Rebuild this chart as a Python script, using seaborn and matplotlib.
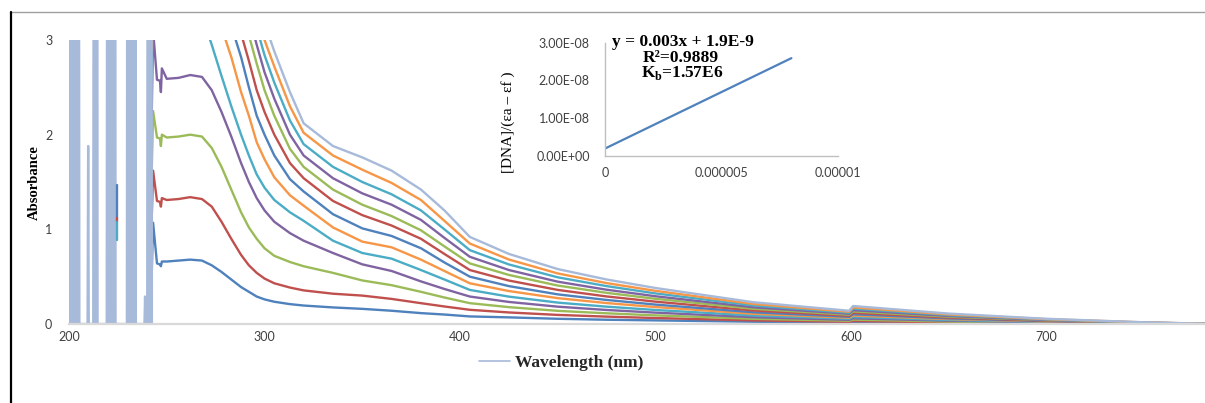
import matplotlib
matplotlib.use("Agg")
import matplotlib.pyplot as plt
from matplotlib.lines import Line2D
import seaborn as sns

# ---------------- data ----------------
wavelength = [242.3, 243, 245, 246.5, 247, 247.5, 250, 256, 262, 268, 273, 278, 283, 288,
              292, 296, 300, 305, 313, 320, 335, 350, 365, 380, 392, 405, 425, 450, 475,
              500, 550, 599, 601, 650, 700, 750, 781]

s1 = [0.52, 1.07, 0.64, 0.63, 0.61, 0.66, 0.66, 0.67, 0.68, 0.67, 0.62, 0.55, 0.47, 0.39,
      0.34, 0.29, 0.26, 0.235, 0.21, 0.195, 0.175, 0.16, 0.14, 0.115, 0.10, 0.08, 0.07, 0.055,
      0.045, 0.038, 0.024, 0.014, 0.018, 0.011, 0.005, 0.002, 0.0]
s2 = [1.10, 1.62, 1.30, 1.29, 1.24, 1.33, 1.31, 1.32, 1.34, 1.32, 1.24, 1.08, 0.90, 0.73,
      0.62, 0.54, 0.48, 0.43, 0.385, 0.355, 0.32, 0.30, 0.265, 0.22, 0.185, 0.15, 0.122, 0.096,
      0.078, 0.063, 0.038, 0.023, 0.031, 0.018, 0.009, 0.003, 0.0]
s3 = [1.60, 2.25, 1.97, 1.96, 1.88, 2.00, 1.97, 1.98, 2.00, 1.98, 1.86, 1.66, 1.42, 1.18,
      1.02, 0.90, 0.80, 0.72, 0.655, 0.61, 0.54, 0.46, 0.41, 0.34, 0.28, 0.22, 0.178, 0.139,
      0.113, 0.091, 0.055, 0.034, 0.046, 0.026, 0.013, 0.004, 0.001]
s4 = [2.20, 3.10, 2.58, 2.57, 2.45, 2.70, 2.59, 2.60, 2.63, 2.61, 2.47, 2.24, 1.98, 1.70,
      1.50, 1.33, 1.20, 1.08, 0.96, 0.88, 0.75, 0.63, 0.56, 0.45, 0.37, 0.29, 0.233, 0.183,
      0.148, 0.12, 0.072, 0.044, 0.06, 0.035, 0.017, 0.006, 0.001]
s5 = [2.60, 3.50, 3.30, 3.30, 3.30, 3.30, 3.30, 3.35, 3.35, 3.25, 2.95, 2.62, 2.30, 2.00,
      1.78, 1.58, 1.44, 1.31, 1.18, 1.09, 0.88, 0.75, 0.69, 0.57, 0.47, 0.36, 0.289, 0.226,
      0.183, 0.148, 0.09, 0.055, 0.074, 0.043, 0.021, 0.007, 0.001]
s6 = [2.90, 3.60, 3.60, 3.60, 3.60, 3.60, 3.60, 3.60, 3.60, 3.60, 3.40, 3.13, 2.82, 2.45,
      2.20, 1.92, 1.74, 1.55, 1.36, 1.25, 1.02, 0.87, 0.81, 0.68, 0.56, 0.43, 0.348, 0.273,
      0.221, 0.179, 0.108, 0.066, 0.089, 0.052, 0.026, 0.008, 0.001]
s7 = [3.10, 3.70, 3.70, 3.70, 3.70, 3.70, 3.70, 3.70, 3.70, 3.70, 3.70, 3.45, 3.15, 2.82,
      2.50, 2.20, 2.00, 1.78, 1.53, 1.40, 1.16, 1.01, 0.93, 0.80, 0.65, 0.50, 0.40, 0.313,
      0.254, 0.205, 0.124, 0.076, 0.103, 0.059, 0.030, 0.010, 0.002]
s8 = [3.20, 3.80, 3.80, 3.80, 3.80, 3.80, 3.80, 3.80, 3.80, 3.80, 3.80, 3.80, 3.40, 3.07,
      2.78, 2.47, 2.24, 2.00, 1.70, 1.54, 1.30, 1.15, 1.04, 0.90, 0.74, 0.57, 0.459, 0.36,
      0.291, 0.236, 0.143, 0.087, 0.118, 0.068, 0.034, 0.011, 0.002]
s9 = [3.30, 3.90, 3.90, 3.90, 3.90, 3.90, 3.90, 3.90, 3.90, 3.90, 3.90, 3.90, 3.90, 3.30,
      3.05, 2.75, 2.47, 2.20, 1.85, 1.66, 1.42, 1.26, 1.14, 0.99, 0.82, 0.64, 0.518, 0.406,
      0.329, 0.266, 0.161, 0.098, 0.133, 0.077, 0.039, 0.013, 0.002]
s10 = [3.40, 4.00, 4.00, 4.00, 4.00, 4.00, 4.00, 4.00, 4.00, 4.00, 4.00, 4.00, 4.00, 4.00,
       3.25, 2.95, 2.66, 2.38, 2.00, 1.78, 1.54, 1.38, 1.26, 1.10, 0.91, 0.71, 0.57, 0.447,
       0.362, 0.293, 0.177, 0.108, 0.146, 0.085, 0.042, 0.014, 0.002]
s11 = [3.50, 4.10, 4.10, 4.10, 4.10, 4.10, 4.10, 4.10, 4.10, 4.10, 4.10, 4.10, 4.10, 4.10,
       3.45, 3.13, 2.84, 2.55, 2.15, 1.90, 1.66, 1.50, 1.37, 1.20, 1.00, 0.78, 0.629, 0.493,
       0.40, 0.323, 0.196, 0.119, 0.162, 0.094, 0.047, 0.015, 0.003]
s12 = [3.60, 4.20, 4.20, 4.20, 4.20, 4.20, 4.20, 4.20, 4.20, 4.20, 4.20, 4.20, 4.20, 4.20,
       4.20, 3.30, 3.00, 2.72, 2.30, 2.02, 1.78, 1.63, 1.49, 1.31, 1.09, 0.85, 0.681, 0.534,
       0.432, 0.35, 0.212, 0.129, 0.175, 0.101, 0.051, 0.017, 0.003]
s13 = [3.70, 4.30, 4.30, 4.30, 4.30, 4.30, 4.30, 4.30, 4.30, 4.30, 4.30, 4.30, 4.30, 4.30,
       4.30, 3.50, 3.18, 2.88, 2.45, 2.12, 1.88, 1.76, 1.62, 1.42, 1.20, 0.92, 0.74, 0.58,
       0.47, 0.38, 0.23, 0.14, 0.19, 0.11, 0.055, 0.018, 0.003]
series = [s1, s2, s3, s4, s5, s6, s7, s8, s9, s10, s11, s12, s13]

# noisy low-wavelength part of the light-blue series (off-scale spikes)
spike_wl = [200.0, 200.4, 200.8, 201.2, 201.5,
            202.1, 202.5, 202.9, 203.3, 203.7, 204.1, 204.5, 204.9, 205.3, 205.6,
            209.5, 209.8, 210.1,
            212.4, 212.8, 213.2, 213.6, 214.0, 214.4, 214.6,
            219.3, 219.7, 220.1, 220.5, 220.9, 221.3, 221.7, 222.1, 222.5, 222.9, 223.3, 223.6, 223.8,
            229.6, 230.0, 230.4, 230.8, 231.2, 231.6, 232.0, 232.4, 232.8, 233.2, 233.6, 234.0, 234.2,
            238.6, 238.9, 239.2,
            240.0, 240.4, 240.8, 241.2, 241.6, 242.0, 242.4]
spike_abs = [0, 9, 0, 9, 0,
             0, 9, 0, 9, 0, 9, 0, 9, 0, 0,
             0, 1.88, 0,
             0, 9, 0, 9, 0, 9, 0,
             0, 9, 0, 9, 0, 9, 0, 9, 0, 9, 0, 9, 0,
             0, 9, 0, 9, 0, 9, 0, 9, 0, 9, 0, 9, 0,
             0, 0.29, 0,
             0, 9, 0, 9, 0, 9, 0]

# short coloured artefact near 224 nm
artefact_wl = [224.3, 224.3]
artefact_s1 = [1.47, 1.12]
artefact_s2 = [1.12, 1.08]
artefact_s5 = [1.08, 0.89]

# inset: [DNA]/(ea-ef) vs [DNA]
inset_x = [0.0, 2.0e-6, 4.0e-6, 6.0e-6, 8.0e-6]
inset_y = [1.9e-9, 7.9e-9, 1.39e-8, 1.99e-8, 2.59e-8]

x_ticks = [200, 300, 400, 500, 600, 700]
y_ticks = [0, 1, 2, 3]
inset_xticks = [0, 5e-6, 1e-5]
inset_xlabels = ["0", "0.000005", "0.00001"]
inset_yticks = [0, 1e-8, 2e-8, 3e-8]
inset_ylabels = ["0.00E+00", "1.00E-08", "2.00E-08", "3.00E-08"]

legend_label = "Wavelength (nm)"

# ---------------- styling ----------------
colors = ["#4F81BD", "#C0504D", "#9BBB59", "#8064A2", "#4BACC6", "#F79646",
          "#4F81BD", "#C0504D", "#9BBB59", "#8064A2", "#4BACC6", "#F79646", "#A7BADA"]

sns.set_theme(style="white")
plt.rcParams["font.family"] = ["Lato", "DejaVu Sans"]
plt.rcParams["mathtext.fontset"] = "custom"
plt.rcParams["mathtext.rm"] = "Liberation Serif"
plt.rcParams["mathtext.bf"] = "Liberation Serif:bold"

W, H = 1205, 403
fig = plt.figure(figsize=(W / 100, H / 100), dpi=100)
fig.patch.set_facecolor("white")

ax = fig.add_axes([69 / W, 1 - 324 / H, 1 - 69 / W, (324 - 40) / H])
ax.set_facecolor("white")

lw = 1.7
for i, (s, c) in enumerate(zip(series, colors)):
    lab = legend_label if i == 12 else None
    sns.lineplot(x=wavelength, y=s, color=c, lw=lw, ax=ax, estimator=None,
                 sort=False, label=lab)

sns.lineplot(x=spike_wl, y=spike_abs, color=colors[12], lw=lw, ax=ax,
             estimator=None, sort=False)
sns.lineplot(x=artefact_wl, y=artefact_s1, color=colors[0], lw=lw, ax=ax, estimator=None, sort=False)
sns.lineplot(x=artefact_wl, y=artefact_s2, color=colors[1], lw=lw, ax=ax, estimator=None, sort=False)
sns.lineplot(x=artefact_wl, y=artefact_s5, color=colors[4], lw=lw, ax=ax, estimator=None, sort=False)

ax.set_xlim(200, 781)
ax.set_ylim(0, 3)
ax.set_xticks(x_ticks)
ax.set_yticks(y_ticks)
ax.set_xlabel("")
ax.set_ylabel("")
ax.tick_params(axis="both", length=0, labelsize=9, colors="#404040")
ax.tick_params(axis="x", pad=5)
ax.tick_params(axis="y", pad=12)
for sp in ["top", "right", "left"]:
    ax.spines[sp].set_visible(False)
ax.spines["bottom"].set_color("#D9D9D9")
ax.spines["bottom"].set_linewidth(1.6)
ax.grid(False)

handles, labels = ax.get_legend_handles_labels()
ax.legend(handles, labels, loc="center", bbox_to_anchor=(561 / W, 1 - 363 / H),
          bbox_transform=fig.transFigure, frameon=False, handlelength=1.8,
          handletextpad=0.3,
          prop={"family": "Liberation Serif", "weight": "bold", "size": 12.5})
leg = ax.get_legend()
for l in leg.get_lines():
    l.set_linewidth(1.2)

fig.text(34 / W, 1 - 182.5 / H, "Absorbance", rotation=90, ha="center", va="center",
         family="Liberation Serif", weight="bold", size=10.5, color="black")

# ---------------- inset ----------------
ax_in = fig.add_axes([605 / W, 1 - 155.7 / H, 233 / W, 113 / H])
ax_in.set_facecolor("none")
sns.lineplot(x=inset_x, y=inset_y, color="#4F81BD", lw=1.6, ax=ax_in, estimator=None, sort=False)
ax_in.set_xlim(0, 1e-5)
ax_in.set_ylim(0, 3e-8)
ax_in.set_xticks(inset_xticks)
ax_in.set_xticklabels(inset_xlabels)
ax_in.set_yticks(inset_yticks)
ax_in.set_yticklabels(inset_ylabels)
ax_in.set_xlabel("")
ax_in.set_ylabel("")
ax_in.tick_params(axis="both", length=0, labelsize=9, colors="#404040")
ax_in.tick_params(axis="x", pad=8)
ax_in.tick_params(axis="y", pad=11)
for sp in ["top", "right"]:
    ax_in.spines[sp].set_visible(False)
for sp in ["left", "bottom"]:
    ax_in.spines[sp].set_color("#BFBFBF")
    ax_in.spines[sp].set_linewidth(1.0)
ax_in.grid(False)
ax_in.text(-0.418, 0.294, "[DNA]/(εa – εf )", rotation=90, ha="center", va="center",
           family="Liberation Serif", size=11, color="black", transform=ax_in.transAxes)

eq_font = dict(family="Liberation Serif", weight="bold", size=12.5, color="black",
               ha="center", va="center")
fig.text(683 / W, 1 - 42.5 / H, "y = 0.003x + 1.9E-9", **eq_font)
fig.text(681 / W, 1 - 58 / H, "R²=0.9889", **eq_font)
fig.text(682 / W, 1 - 73 / H, r"K$_\mathbf{b}$=1.57E6", **eq_font)

# chart-area border fragments
fig.add_artist(Line2D([10 / W, 1], [1 - 12.3 / H, 1 - 12.3 / H], color="#A0A0A0", lw=1.0,
                      transform=fig.transFigure))
fig.add_artist(Line2D([11 / W, 11 / W], [0, 1 - 12 / H], color="black", lw=1.6,
                      transform=fig.transFigure))

fig.savefig("out.png", dpi=100, facecolor="white")
